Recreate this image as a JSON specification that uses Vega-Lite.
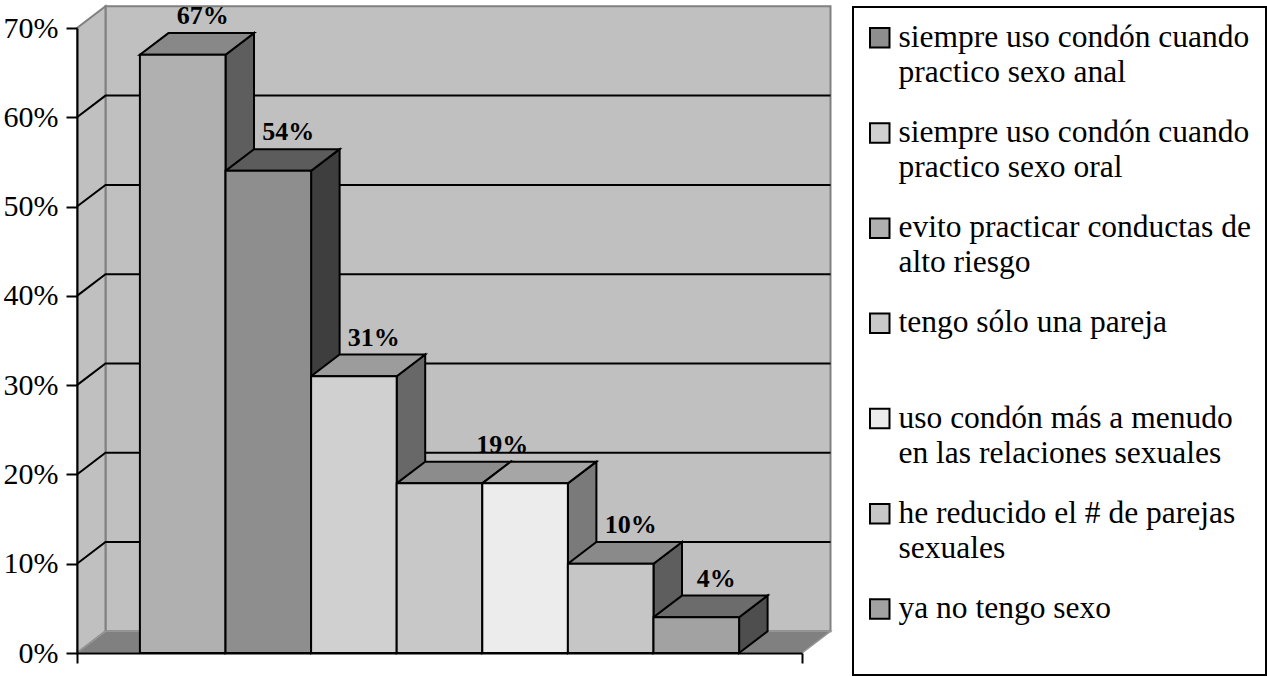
{
  "$schema": "https://vega.github.io/schema/vega-lite/v6.json",
  "width": 725,
  "height": 625,
  "autosize": {"type": "none"},
  "padding": {"left": 77, "top": 28, "right": 465, "bottom": 24},
  "background": "white",
  "config": {"view": {"stroke": null}, "font": "Liberation Serif"},
  "params": [
    {"name": "fondo_x", "value": 0.333},
    {"name": "fondo_y", "value": 2.43},
    {"name": "borde_izq", "value": -0.735},
    {"name": "borde_der", "value": 7.735},
    {"name": "techo", "value": 70}
  ],
  "datasets": {
    "barras": [
      {"orden": 0, "serie": "evito practicar conductas de\nalto riesgo", "valor": 67},
      {"orden": 1, "serie": "siempre uso condón cuando\npractico sexo anal", "valor": 54},
      {"orden": 2, "serie": "siempre uso condón cuando\npractico sexo oral", "valor": 31},
      {"orden": 3, "serie": "tengo sólo una pareja", "valor": 19},
      {"orden": 4, "serie": "uso condón más a menudo\nen las relaciones sexuales", "valor": 19},
      {"orden": 5, "serie": "he reducido el # de parejas\nsexuales", "valor": 10},
      {"orden": 6, "serie": "ya no tengo sexo", "valor": 4}
    ],
    "niveles": [
      {"nivel": 10}, {"nivel": 20}, {"nivel": 30}, {"nivel": 40}, {"nivel": 50}, {"nivel": 60}
    ]
  },
  "resolve": {"scale": {"color": "independent"}},
  "layer": [
    {
      "data": {"values": [{"plano": "fondo"}]},
      "transform": [
        {"calculate": "borde_izq + fondo_x", "as": "xa"},
        {"calculate": "borde_der + fondo_x", "as": "xb"},
        {"calculate": "fondo_y", "as": "ya"},
        {"calculate": "techo + fondo_y", "as": "yb"}
      ],
      "mark": {"type": "rect", "fill": "#c0c0c0", "stroke": "#808080", "strokeWidth": 2},
      "encoding": {
        "x": {
          "field": "xa", "type": "quantitative", "title": null,
          "scale": {"domain": [-0.735, 7.735], "nice": false, "zero": false},
          "axis": {
            "orient": "bottom", "values": [-0.735, 7.735], "labels": false, "grid": false,
            "domainColor": "black", "domainWidth": 2, "tickColor": "black", "tickWidth": 2,
            "tickSize": 10, "zindex": 2
          }
        },
        "x2": {"field": "xb"},
        "y": {
          "field": "ya", "type": "quantitative", "title": null,
          "scale": {"domain": [0, 70], "nice": false, "zero": true},
          "axis": {
            "orient": "left", "values": [0, 10, 20, 30, 40, 50, 60, 70],
            "labelExpr": "datum.value + '%'", "grid": false,
            "domainColor": "black", "domainWidth": 2, "tickColor": "black", "tickWidth": 2,
            "tickSize": 11, "labelFont": "Liberation Serif", "labelFontSize": 30,
            "labelColor": "black", "labelPadding": 8, "labelFlush": false,
            "labelOverlap": false, "labelBound": false, "zindex": 2
          }
        },
        "y2": {"field": "yb"}
      }
    },
    {
      "data": {"values": [{"plano": "lateral"}]},
      "transform": [
        {"calculate": "[0, 1]", "as": "k"},
        {"flatten": ["k"]},
        {"calculate": "borde_izq + datum.k * fondo_x", "as": "xs"},
        {"calculate": "datum.k * fondo_y", "as": "ylo"},
        {"calculate": "techo + datum.k * fondo_y", "as": "yhi"}
      ],
      "mark": {"type": "area", "orient": "vertical", "fill": "#c0c0c0", "stroke": "#808080", "strokeWidth": 2},
      "encoding": {
        "x": {"field": "xs", "type": "quantitative", "title": null},
        "y": {"field": "ylo", "type": "quantitative", "title": null, "stack": null},
        "y2": {"field": "yhi"}
      }
    },
    {
      "data": {"values": [{"plano": "suelo"}]},
      "transform": [
        {"calculate": "[0, 1, 2, 3]", "as": "k"},
        {"flatten": ["k"]},
        {"calculate": "datum.k == 0 ? borde_izq : datum.k == 1 ? borde_izq + fondo_x : datum.k == 2 ? borde_der : borde_der + fondo_x", "as": "xs"},
        {"calculate": "datum.k == 3 ? fondo_y : 0", "as": "ylo"},
        {"calculate": "datum.k == 0 ? 0 : fondo_y", "as": "yhi"}
      ],
      "mark": {"type": "area", "orient": "vertical", "fill": "#808080", "stroke": "#969696", "strokeWidth": 1.5},
      "encoding": {
        "x": {"field": "xs", "type": "quantitative", "title": null},
        "y": {"field": "ylo", "type": "quantitative", "title": null, "stack": null},
        "y2": {"field": "yhi"}
      }
    },
    {
      "data": {"name": "niveles"},
      "transform": [
        {"calculate": "[0, 1, 2]", "as": "k"},
        {"flatten": ["k"]},
        {"calculate": "datum.k == 0 ? borde_izq : datum.k == 1 ? borde_izq + fondo_x : borde_der + fondo_x", "as": "xs"},
        {"calculate": "datum.nivel + (datum.k == 0 ? 0 : fondo_y)", "as": "ys"}
      ],
      "mark": {"type": "line", "color": "black", "strokeWidth": 2},
      "encoding": {
        "x": {"field": "xs", "type": "quantitative", "title": null},
        "y": {"field": "ys", "type": "quantitative", "title": null},
        "detail": {"field": "nivel", "type": "nominal"}
      }
    },
    {
      "data": {"name": "barras"},
      "transform": [
        {"calculate": "[0, 1]", "as": "k"},
        {"flatten": ["k"]},
        {"calculate": "datum.orden + 1 + datum.k * fondo_x", "as": "xs"},
        {"calculate": "datum.k * fondo_y", "as": "ylo"},
        {"calculate": "datum.valor + datum.k * fondo_y", "as": "yhi"}
      ],
      "mark": {"type": "area", "orient": "vertical", "stroke": "black", "strokeWidth": 2, "opacity": 1},
      "encoding": {
        "x": {"field": "xs", "type": "quantitative", "title": null},
        "y": {"field": "ylo", "type": "quantitative", "title": null, "stack": null},
        "y2": {"field": "yhi"},
        "detail": {"field": "orden", "type": "nominal"},
        "color": {
          "field": "serie", "type": "nominal", "legend": null,
          "scale": {
            "domain": [
              "siempre uso condón cuando\npractico sexo anal",
              "siempre uso condón cuando\npractico sexo oral",
              "evito practicar conductas de\nalto riesgo",
              "tengo sólo una pareja",
              "uso condón más a menudo\nen las relaciones sexuales",
              "he reducido el # de parejas\nsexuales",
              "ya no tengo sexo"
            ],
            "range": ["#3e3e3e", "#686868", "#5e5e5e", "#5c5c5c", "#7a7a7a", "#5e5e5e", "#4e4e4e"]
          }
        }
      }
    },
    {
      "data": {"name": "barras"},
      "transform": [
        {"calculate": "[0, 1, 2, 3]", "as": "k"},
        {"flatten": ["k"]},
        {"calculate": "datum.orden + (datum.k == 0 ? 0 : datum.k == 1 ? fondo_x : datum.k == 2 ? 1 : 1 + fondo_x)", "as": "xs"},
        {"calculate": "datum.valor + (datum.k == 3 ? fondo_y : 0)", "as": "ylo"},
        {"calculate": "datum.valor + (datum.k == 0 ? 0 : fondo_y)", "as": "yhi"}
      ],
      "mark": {"type": "area", "orient": "vertical", "stroke": "black", "strokeWidth": 2, "opacity": 1},
      "encoding": {
        "x": {"field": "xs", "type": "quantitative", "title": null},
        "y": {"field": "ylo", "type": "quantitative", "title": null, "stack": null},
        "y2": {"field": "yhi"},
        "detail": {"field": "orden", "type": "nominal"},
        "color": {
          "field": "serie", "type": "nominal", "legend": null,
          "scale": {
            "domain": [
              "siempre uso condón cuando\npractico sexo anal",
              "siempre uso condón cuando\npractico sexo oral",
              "evito practicar conductas de\nalto riesgo",
              "tengo sólo una pareja",
              "uso condón más a menudo\nen las relaciones sexuales",
              "he reducido el # de parejas\nsexuales",
              "ya no tengo sexo"
            ],
            "range": ["#5c5c5c", "#9c9c9c", "#888888", "#8c8c8c", "#a6a6a6", "#8a8a8a", "#6c6c6c"]
          }
        }
      }
    },
    {
      "data": {"name": "barras"},
      "transform": [
        {"calculate": "datum.orden + 1", "as": "x_der"}
      ],
      "mark": {"type": "rect", "stroke": "black", "strokeWidth": 2, "opacity": 1},
      "encoding": {
        "x": {"field": "orden", "type": "quantitative", "title": null},
        "x2": {"field": "x_der"},
        "y": {"field": "valor", "type": "quantitative", "title": null},
        "y2": {"datum": 0},
        "color": {
          "field": "serie", "type": "nominal",
          "scale": {
            "domain": [
              "siempre uso condón cuando\npractico sexo anal",
              "siempre uso condón cuando\npractico sexo oral",
              "evito practicar conductas de\nalto riesgo",
              "tengo sólo una pareja",
              "uso condón más a menudo\nen las relaciones sexuales",
              "he reducido el # de parejas\nsexuales",
              "ya no tengo sexo"
            ],
            "range": ["#8e8e8e", "#d0d0d0", "#b0b0b0", "#c8c8c8", "#ececec", "#c6c6c6", "#a2a2a2"]
          },
          "legend": {
            "title": null,
            "orient": "none",
            "legendX": 776,
            "legendY": -21,
            "direction": "vertical",
            "columns": 1,
            "gridAlign": "all",
            "padding": 15,
            "rowPadding": 27.2,
            "strokeColor": "black",
            "fillColor": "white",
            "symbolType": "square",
            "symbolSize": 380,
            "symbolStrokeColor": "black",
            "symbolStrokeWidth": 2,
            "symbolOpacity": 1,
            "symbolOffset": -4,
            "labelFont": "Liberation Serif",
            "labelFontSize": 31.5,
            "labelColor": "black",
            "labelLimit": 0,
            "labelOffset": 3,
            "labelExpr": "split(indexof(datum.label, '\\n') < 0 ? datum.label + '\\n' : datum.label, '\\n')",
            "encode": {
              "labels": {"update": {"lineHeight": {"value": 35}}},
              "legend": {"update": {"strokeWidth": {"value": 2}}}
            }
          }
        }
      }
    },
    {
      "data": {"name": "barras"},
      "transform": [
        {"aggregate": [{"op": "mean", "field": "orden", "as": "orden_medio"}], "groupby": ["valor"]},
        {"calculate": "datum.orden_medio + 0.5 + 0.7 * fondo_x", "as": "xe"},
        {"calculate": "datum.valor + fondo_y", "as": "ye"},
        {"calculate": "datum.valor + '%'", "as": "etiqueta"}
      ],
      "mark": {
        "type": "text", "font": "Liberation Serif", "fontSize": 26, "fontWeight": "bold",
        "color": "black", "align": "center", "baseline": "alphabetic", "dy": -9
      },
      "encoding": {
        "x": {"field": "xe", "type": "quantitative", "title": null},
        "y": {"field": "ye", "type": "quantitative", "title": null},
        "text": {"field": "etiqueta", "type": "nominal"}
      }
    }
  ]
}
